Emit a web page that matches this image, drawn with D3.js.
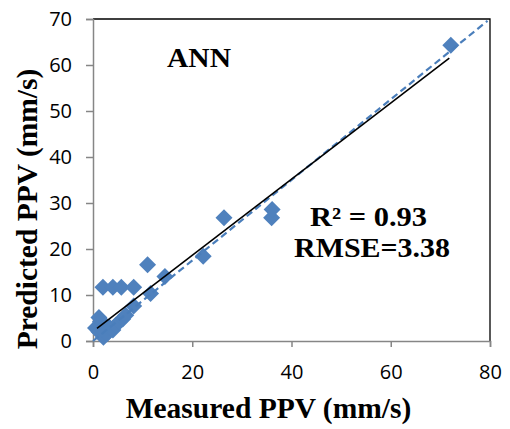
<!DOCTYPE html>
<html><head><meta charset="utf-8">
<script src="https://cdn.jsdelivr.net/npm/d3@7"></script>
<style>
html,body{margin:0;padding:0;background:#fff;}
</style></head>
<body>
<svg id="chart" width="510" height="429"></svg>
<script>
// ---- data ----
const measured  = [0.5, 1.2, 1.5, 1.2, 2.1, 2.8, 3.3, 4.0, 4.6, 5.3, 6.0, 6.6, 2.5, 1.8,
                   2.0, 4.0, 5.7, 8.2, 8.2, 11.0, 11.6, 14.5, 22.2, 26.4, 36.0, 36.1, 72.1];
const predicted = [2.8, 5.1, 4.2, 2.0, 0.8, 1.6, 3.0, 2.4, 3.4, 4.2, 4.8, 5.6, 3.5, 2.6,
                   11.7, 11.7, 11.7, 11.7, 7.6, 16.6, 10.3, 14.0, 18.4, 26.8, 26.8, 28.6, 64.3];
const trendX = [0.8, 71.8];
const trendY = [2.76, 61.5];
const refX = [0, 79.5];
const refY = [0, 69.6];
const xTicks = [0, 20, 40, 60, 80];
const yTicks = [0, 10, 20, 30, 40, 50, 60, 70];
const modelLabel = "ANN";
const statLines = ["R² = 0.93", "RMSE=3.38"];
const xTitle = "Measured PPV (mm/s)";
const yTitle = "Predicted PPV (mm/s)";

// ---- layout ----
const svg = d3.select("#chart");
const L = 93, R = 490, T = 19, B = 341;
const x = d3.scaleLinear().domain([0, 80]).range([L, R]);
const y = d3.scaleLinear().domain([0, 70]).range([B, T]);
const axisGray = "#868686";
const blue = "#4f81bd";

// frame (top & right)
svg.append("path")
  .attr("d", `M${L},${T}H${R}V${B}`)
  .attr("fill", "none").attr("stroke", "#000").attr("stroke-width", 1.3);

// axes
const xAxis = svg.append("g").attr("transform", `translate(0,${B})`)
  .call(d3.axisBottom(x).tickValues(xTicks).tickSize(6).tickPadding(18).tickFormat(d3.format("d")));
const yAxis = svg.append("g").attr("transform", `translate(${L},0)`)
  .call(d3.axisLeft(y).tickValues(yTicks).tickSize(7).tickPadding(14).tickFormat(d3.format("d")));
[xAxis, yAxis].forEach(g => {
  g.select(".domain").attr("stroke", axisGray).attr("stroke-width", 1.5);
  g.selectAll(".tick line").attr("stroke", axisGray).attr("stroke-width", 1.5);
  g.selectAll(".tick text").attr("fill", "#000")
    .style("font-family", "'Open Sans', sans-serif").style("font-size", "20px");
});
xAxis.selectAll(".tick text").attr("dy", "0.71em");

// markers
svg.append("g").selectAll("path")
  .data(measured.map((m, i) => [m, predicted[i]]))
  .join("path")
  .attr("transform", d => `translate(${x(d[0])},${y(d[1])})`)
  .attr("d", "M0,-8.5L8.5,0L0,8.5L-8.5,0Z")
  .attr("fill", blue);

// reference dashed line
const line = d3.line().x(d => x(d[0])).y(d => y(d[1]));
svg.append("path")
  .attr("d", line(refX.map((v, i) => [v, refY[i]])))
  .attr("fill", "none").attr("stroke", "#4a7ebb").attr("stroke-width", 2.2)
  .attr("stroke-dasharray", "7,4");

// trend line
svg.append("path")
  .attr("d", line(trendX.map((v, i) => [v, trendY[i]])))
  .attr("fill", "none").attr("stroke", "#000").attr("stroke-width", 1.6);

// texts
const serif = "'Liberation Serif', 'Times New Roman', serif";
svg.append("text").attr("x", 167).attr("y", 67).text(modelLabel)
  .attr("textLength", 64).attr("lengthAdjust", "spacingAndGlyphs")
  .style("font-family", serif).style("font-weight", "bold").style("font-size", "27px");
svg.append("text").attr("x", 310).attr("y", 226).text(statLines[0])
  .attr("textLength", 117).attr("lengthAdjust", "spacingAndGlyphs")
  .style("font-family", serif).style("font-weight", "bold").style("font-size", "27px");
svg.append("text").attr("x", 294).attr("y", 257).text(statLines[1])
  .attr("textLength", 156).attr("lengthAdjust", "spacingAndGlyphs")
  .style("font-family", serif).style("font-weight", "bold").style("font-size", "27px");

svg.append("text").attr("x", (125 + 412) / 2).attr("y", 418).attr("text-anchor", "middle")
  .text(xTitle)
  .style("font-family", serif).style("font-weight", "bold").style("font-size", "29.5px");
svg.append("text").attr("transform", "translate(37,209) rotate(-90)").attr("text-anchor", "middle")
  .text(yTitle)
  .style("font-family", serif).style("font-weight", "bold").style("font-size", "29.5px");
</script>
</body></html>
